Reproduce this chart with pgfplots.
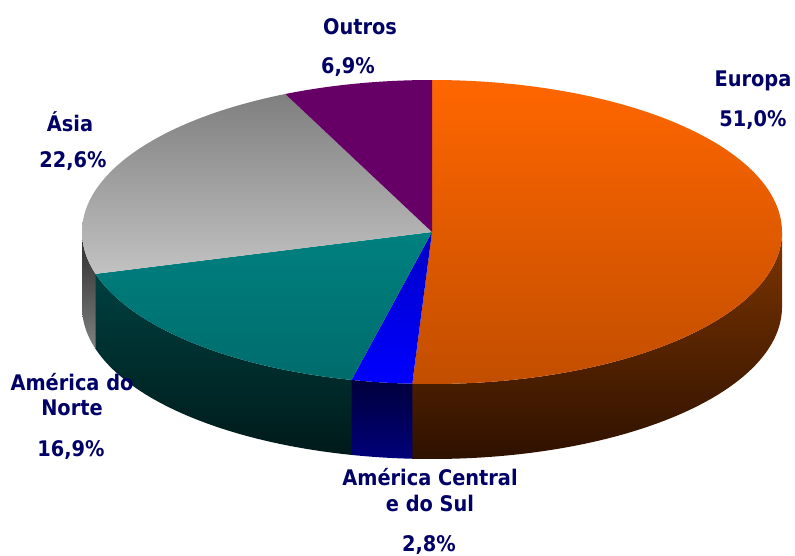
\documentclass[border=0pt]{standalone}
\usepackage{fontspec}
\setmainfont{DejaVu Sans}[FakeStretch=0.9]
\usepackage{pgfplots}
\pgfplotsset{compat=1.18}
\definecolor{labc}{HTML}{000066}
\definecolor{eurT}{HTML}{FF6600}
\definecolor{eurB}{HTML}{C24E00}
\definecolor{eurST}{HTML}{7D3500}
\definecolor{eurSB}{HTML}{2E1100}
\definecolor{amcT}{HTML}{0000C8}
\definecolor{amcB}{HTML}{0000FF}
\definecolor{amcST}{HTML}{00003C}
\definecolor{amcSB}{HTML}{00007A}
\definecolor{amnT}{HTML}{008080}
\definecolor{amnB}{HTML}{006C6C}
\definecolor{amnST}{HTML}{004040}
\definecolor{amnSB}{HTML}{001A1A}
\definecolor{asiT}{HTML}{7F7F7F}
\definecolor{asiB}{HTML}{C2C2C2}
\definecolor{asiST}{HTML}{2A2A2A}
\definecolor{asiSB}{HTML}{808080}
\definecolor{outC}{HTML}{660066}
% shares (%)
\def\vEur{51.0}
\def\vAmC{2.8}
\def\vAmN{16.9}
\def\vAsi{22.6}
\def\vOut{6.9}
% geometry (pixels)
\def\cx{432}
\def\cy{232}
\def\rx{350}
\def\ry{152}
\def\dd{75}
\pgfmathsetmacro\tot{\vEur+\vAmC+\vAmN+\vAsi+\vOut}
\pgfmathsetmacro\k{360/\tot}
\pgfmathsetmacro\aA{90}
\pgfmathsetmacro\aB{\aA-\k*\vEur}
\pgfmathsetmacro\aC{\aB-\k*\vAmC}
\pgfmathsetmacro\aD{\aC-\k*\vAmN}
\pgfmathsetmacro\aE{\aD-\k*\vAsi}
\pgfmathsetmacro\aF{\aE-\k*\vOut}
\newcommand\topface[4]{%
  \addplot[draw=none,top color=#3,bottom color=#4,domain=#1:#2,samples=120,variable=\t]
    ({\cx+\rx*cos(\t)},{\cy-\ry*sin(\t)}) -- (axis cs:\cx,\cy) -- cycle;}
\newcommand\sideface[4]{%
  \addplot[draw=none,top color=#3,bottom color=#4,domain=0:2.2,samples=221,variable=\t]
    ({\cx+\rx*cos(#1+(#2-#1)*(min(\t,1)-max(\t-1.2,0)))},
     {\cy-\ry*sin(#1+(#2-#1)*(min(\t,1)-max(\t-1.2,0)))+\dd*min(max((\t-1)/0.2,0),1)}) -- cycle;}
\tikzset{lbl/.style={text=labc, inner sep=0pt, font=\fontsize{21.5}{24}\selectfont\bfseries}}
\begin{document}
\begin{tikzpicture}
\begin{axis}[hide axis, scale only axis, width=795pt, height=556pt,
  xmin=0, xmax=795, ymin=0, ymax=556, y dir=reverse, clip=false]
\sideface{\aB}{0}{eurST}{eurSB}
\sideface{\aC}{\aB}{amcST}{amcSB}
\sideface{\aD}{\aC}{amnST}{amnSB}
\sideface{-180}{\aD}{asiST}{asiSB}
\topface{\aB}{\aA}{eurT}{eurB}
\topface{\aC}{\aB}{amcT}{amcB}
\topface{\aD}{\aC}{amnT}{amnB}
\topface{\aE}{\aD}{asiT}{asiB}
\addplot[draw=none,fill=outC,domain=\aF:\aE,samples=60,variable=\t]
  ({\cx+\rx*cos(\t)},{\cy-\ry*sin(\t)}) -- (axis cs:\cx,\cy) -- cycle;
\node[lbl] at (axis cs:360,27) {Outros};
\node[lbl] at (axis cs:348,67) {6,9\%};
\node[lbl] at (axis cs:753,81) {Europa};
\node[lbl] at (axis cs:753,120) {51,0\%};
\node[lbl] at (axis cs:70,122) {Ásia};
\node[lbl] at (axis cs:73,161) {22,6\%};
\node[lbl] at (axis cs:72,382) {América do};
\node[lbl] at (axis cs:72,408) {Norte};
\node[lbl] at (axis cs:71,450) {16,9\%};
\node[lbl] at (axis cs:430,477) {América Central};
\node[lbl] at (axis cs:430,503) {e do Sul};
\node[lbl] at (axis cs:429,545) {2,8\%};
\end{axis}
\pgfresetboundingbox
\path[use as bounding box] (current axis.south west) rectangle (current axis.north east);
\end{tikzpicture}
\end{document}
